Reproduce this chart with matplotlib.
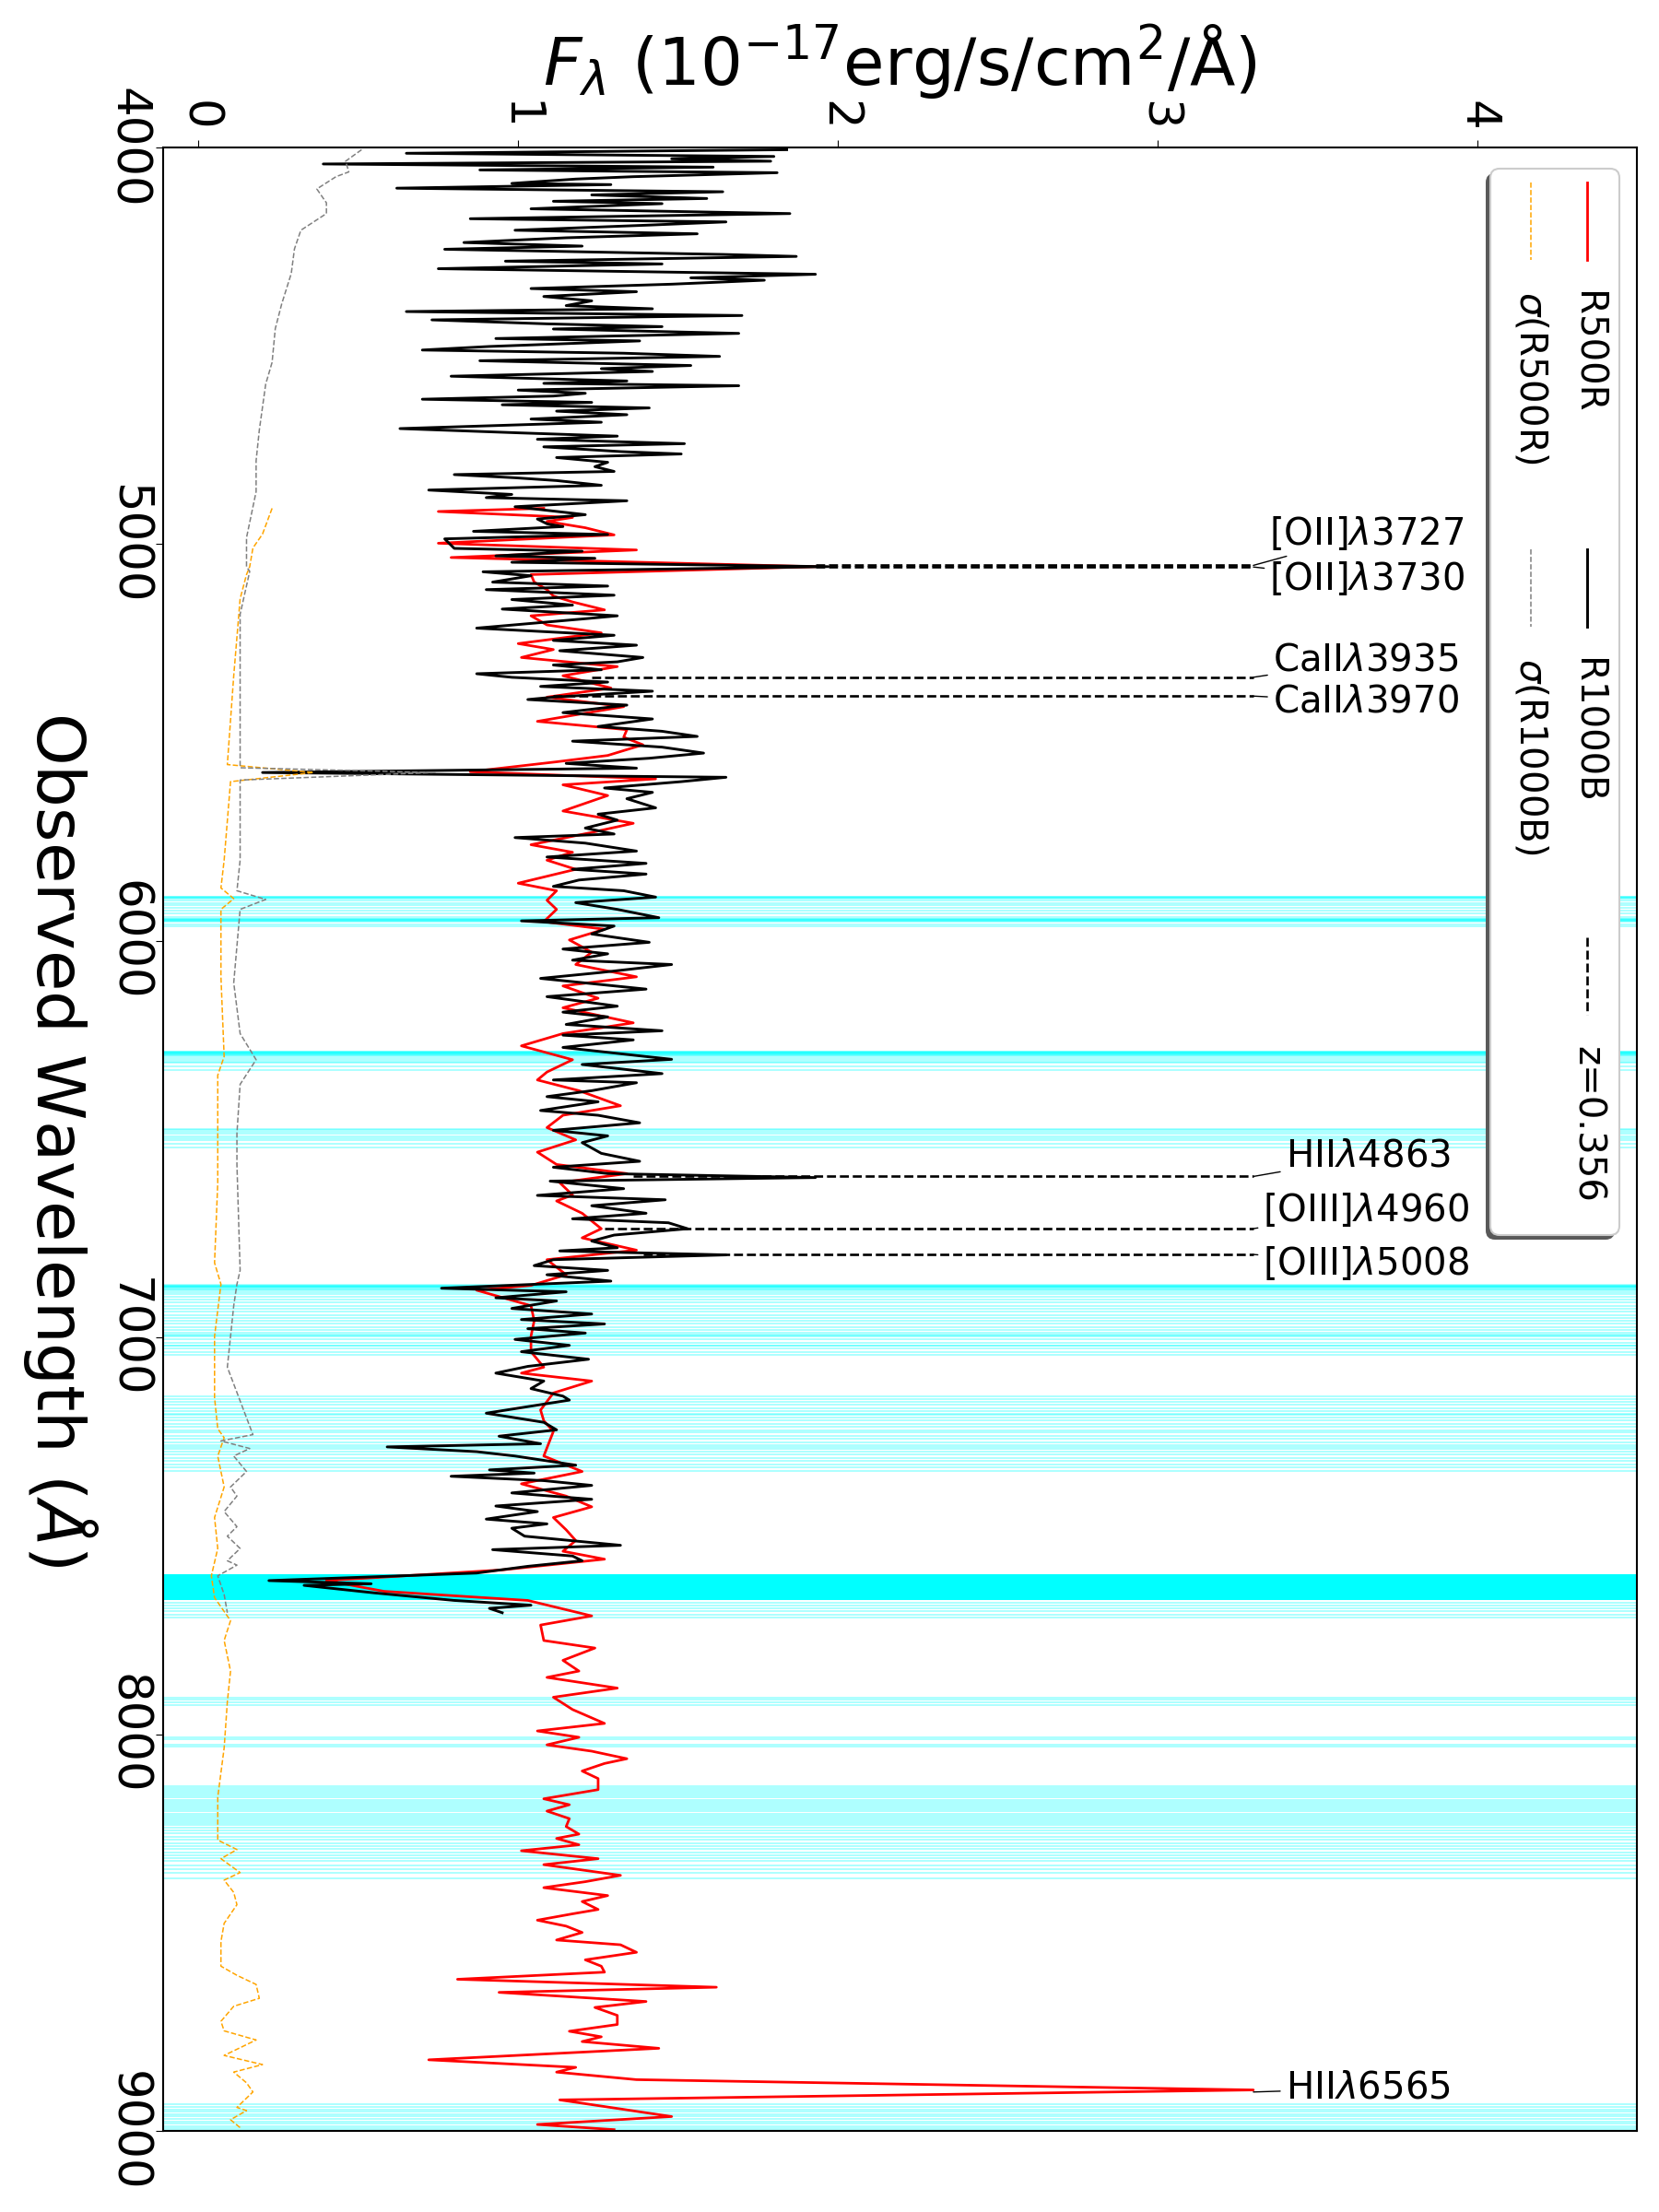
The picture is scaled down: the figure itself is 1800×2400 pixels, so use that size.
import numpy as np
import matplotlib
matplotlib.use('Agg')
import matplotlib.pyplot as plt
from matplotlib.patches import FancyBboxPatch
from matplotlib.lines import Line2D
from matplotlib.transforms import Affine2D

z = 0.356

# R1000B spectrum (observed wavelength in A, flux in 1e-17 erg/s/cm2/A)
r1000Wave = [4006, 4015, 4023, 4029, 4035, 4042, 4050, 4057, 4064, 4074, 4080, 4091, 4094, 4103,
             4112, 4120, 4129, 4136, 4142, 4155, 4167, 4180, 4188, 4196, 4209, 4218, 4228, 4240,
             4249, 4257, 4270, 4275, 4287, 4294, 4306, 4314, 4320, 4329, 4335, 4345, 4356, 4364,
             4376, 4387, 4399, 4407, 4414, 4424, 4435, 4445, 4452, 4458, 4469, 4482, 4488, 4502,
             4511, 4519, 4527, 4538, 4550, 4558, 4565, 4577, 4589, 4595, 4601, 4612, 4620, 4627,
             4635, 4643, 4649, 4657, 4665, 4674, 4685, 4693, 4709, 4720, 4728, 4736, 4747, 4755,
             4767, 4773, 4782, 4794, 4805, 4817, 4825, 4833, 4840, 4852, 4864, 4875, 4883, 4891,
             4906, 4926, 4937, 4949, 4956, 4968, 4976, 4987, 5011, 5018, 5030, 5036, 5046, 5057,
             5070, 5080, 5096, 5106, 5115, 5129, 5140, 5154, 5164, 5181, 5189, 5212, 5230, 5243,
             5255, 5269, 5286, 5297, 5305, 5317, 5327, 5336, 5348, 5359, 5371, 5386, 5392, 5406,
             5425, 5441, 5460, 5472, 5485, 5497, 5512, 5527, 5540, 5553, 5565, 5576, 5588, 5599,
             5615, 5626, 5642, 5665, 5681, 5696, 5716, 5731, 5740, 5754, 5774, 5789, 5805, 5820,
             5832, 5847, 5863, 5874, 5890, 5904, 5921, 5942, 5950, 5963, 5983, 6004, 6021, 6033,
             6049, 6060, 6080, 6095, 6122, 6141, 6165, 6180, 6192, 6211, 6227, 6238, 6250, 6269,
             6299, 6312, 6335, 6351, 6358, 6378, 6393, 6406, 6428, 6440, 6459, 6478, 6492, 6509,
             6536, 6556, 6571, 6587, 6597, 6606, 6625, 6642, 6653, 6668, 6687, 6701, 6711, 6726,
             6742, 6757, 6774, 6782, 6792, 6804, 6819, 6831, 6842, 6858, 6876, 6885, 6900, 6908,
             6927, 6941, 6955, 6966, 6978, 6989, 7005, 7020, 7036, 7055, 7073, 7090, 7110, 7129,
             7148, 7158, 7191, 7214, 7233, 7249, 7268, 7276, 7288, 7299, 7322, 7334, 7342, 7350,
             7361, 7373, 7392, 7408, 7425, 7439, 7458, 7470, 7481, 7501, 7524, 7535, 7551, 7563,
             7577, 7594, 7613, 7621, 7625, 7644, 7663, 7675, 7683, 7694]
r1000Flux = [1.84, 0.65, 1.80, 1.48, 1.79, 0.39, 1.61, 0.88, 1.81, 1.36, 1.18, 0.98, 1.29, 0.62,
             1.64, 1.23, 1.59, 1.11, 1.45, 1.04, 1.85, 0.85, 1.65, 1.41, 0.99, 1.56, 1.15, 0.83,
             1.20, 0.77, 1.64, 1.87, 0.96, 1.45, 0.75, 1.42, 1.93, 1.54, 1.77, 1.48, 1.04, 1.37,
             1.08, 1.23, 1.15, 1.42, 0.65, 1.70, 0.73, 1.09, 1.45, 1.11, 1.69, 0.93, 1.38, 0.91,
             0.70, 1.33, 1.63, 0.88, 1.54, 1.26, 1.42, 0.79, 1.34, 1.08, 1.69, 1.00, 1.21, 1.11,
             0.70, 1.23, 0.95, 1.41, 1.12, 1.34, 1.04, 1.26, 0.63, 1.01, 1.31, 1.06, 1.52, 1.08,
             1.32, 1.51, 1.12, 1.28, 1.24, 1.30, 0.80, 0.99, 1.12, 1.26, 0.72, 0.98, 0.90, 1.34,
             0.99, 1.21, 1.06, 1.09, 1.14, 0.86, 1.28, 0.77, 0.80, 1.20, 0.93, 1.24, 0.98, 1.97,
             0.89, 1.04, 0.92, 1.28, 0.90, 1.30, 0.98, 1.17, 0.95, 1.31, 1.20, 0.87, 1.30, 1.11,
             1.37, 1.13, 1.39, 1.31, 1.11, 1.26, 0.87, 0.98, 1.28, 1.07, 1.42, 1.11, 1.03, 1.34,
             1.14, 1.42, 1.25, 1.45, 1.56, 1.17, 1.45, 1.58, 1.41, 1.15, 1.37, 0.20, 1.65, 1.51,
             1.27, 1.42, 1.34, 1.43, 1.25, 1.31, 1.21, 1.30, 0.99, 1.21, 1.37, 1.09, 1.40, 1.17,
             1.40, 1.19, 1.11, 1.33, 1.43, 1.18, 1.31, 1.44, 1.01, 1.30, 1.23, 1.41, 1.14, 1.28,
             1.17, 1.48, 1.26, 1.07, 1.40, 1.09, 1.31, 1.14, 1.28, 1.15, 1.45, 1.14, 1.36, 1.14,
             1.48, 1.20, 1.45, 1.11, 1.37, 1.23, 1.09, 1.25, 1.07, 1.25, 1.38, 1.11, 1.28, 1.20,
             1.26, 1.38, 1.11, 1.28, 1.93, 1.10, 1.33, 1.06, 1.46, 1.23, 1.40, 1.17, 1.47, 1.53,
             1.30, 1.23, 1.31, 1.13, 1.65, 1.11, 1.05, 1.28, 1.09, 1.29, 0.76, 1.15, 0.93, 1.12,
             0.98, 1.23, 1.01, 1.27, 1.03, 1.21, 0.99, 1.16, 1.01, 1.22, 1.03, 0.93, 1.08, 1.04,
             1.14, 1.16, 0.90, 1.08, 1.12, 0.94, 1.07, 0.59, 0.87, 0.99, 1.18, 0.91, 1.05, 0.79,
             1.08, 1.23, 0.98, 1.23, 0.93, 1.06, 0.90, 1.09, 0.98, 1.02, 1.32, 0.92, 1.17, 1.20,
             1.03, 0.87, 0.22, 0.54, 0.33, 0.55, 0.80, 1.04, 0.91, 0.95]

# R500R spectrum
r500Wave = [4910, 4918, 4933, 4943, 4959, 4977, 4998, 5015, 5034, 5057, 5077, 5096, 5115, 5131,
            5146, 5166, 5181, 5204, 5224, 5251, 5266, 5286, 5309, 5332, 5363, 5386, 5410, 5447,
            5468, 5487, 5506, 5533, 5549, 5574, 5592, 5607, 5634, 5673, 5704, 5727, 5758, 5777,
            5797, 5820, 5855, 5874, 5898, 5921, 5952, 5971, 5998, 6029, 6060, 6091, 6114, 6145,
            6169, 6207, 6234, 6265, 6300, 6331, 6351, 6378, 6416, 6440, 6471, 6502, 6533, 6564,
            6587, 6610, 6641, 6656, 6687, 6726, 6749, 6780, 6804, 6842, 6869, 6881, 6920, 6958,
            6997, 7036, 7075, 7090, 7110, 7140, 7183, 7210, 7237, 7299, 7338, 7369, 7400, 7427,
            7454, 7485, 7512, 7539, 7559, 7586, 7613, 7640, 7663, 7702, 7725, 7764, 7783, 7814,
            7841, 7857, 7884, 7907, 7938, 7973, 7992, 8008, 8027, 8043, 8062, 8074, 8093, 8112,
            8140, 8163, 8178, 8194, 8213, 8233, 8252, 8263, 8279, 8294, 8314, 8329, 8356, 8372,
            8387, 8407, 8422, 8442, 8453, 8469, 8484, 8500, 8519, 8531, 8550, 8569, 8585, 8600,
            8618, 8638, 8651, 8674, 8689, 8709, 8732, 8749, 8763, 8775, 8792, 8821, 8840, 8852,
            8871, 8897, 8922, 8964, 8984, 8997]
r500Flux = [1.08, 0.75, 1.17, 1.09, 1.21, 1.30, 0.75, 1.37, 0.79, 1.93, 1.04, 1.05, 1.09, 1.11,
            1.17, 1.27, 1.04, 1.09, 1.26, 1.00, 1.11, 1.01, 1.31, 1.14, 1.29, 1.09, 1.33, 1.06,
            1.34, 1.33, 1.39, 1.28, 1.12, 0.85, 1.43, 1.14, 1.28, 1.14, 1.36, 1.23, 1.04, 1.17,
            1.09, 1.18, 1.00, 1.12, 1.09, 1.12, 1.08, 1.27, 1.16, 1.23, 1.18, 1.37, 1.14, 1.25,
            1.14, 1.36, 1.14, 1.01, 1.17, 1.09, 1.06, 1.19, 1.32, 1.14, 1.09, 1.18, 1.06, 1.12,
            1.34, 1.13, 1.17, 1.12, 1.20, 1.26, 1.20, 1.37, 1.09, 1.15, 1.04, 0.87, 1.04, 1.05,
            1.04, 1.04, 1.08, 1.01, 1.23, 1.11, 1.07, 1.08, 1.11, 1.08, 1.20, 1.01, 1.15, 1.23,
            1.11, 1.15, 1.18, 1.14, 1.27, 0.95, 0.40, 0.58, 1.03, 1.23, 1.07, 1.08, 1.24, 1.14,
            1.19, 1.09, 1.31, 1.11, 1.17, 1.27, 1.06, 1.19, 1.09, 1.23, 1.34, 1.27, 1.20, 1.25,
            1.25, 1.08, 1.16, 1.09, 1.16, 1.15, 1.19, 1.12, 1.19, 1.01, 1.25, 1.08, 1.32, 1.21,
            1.08, 1.28, 1.20, 1.25, 1.17, 1.06, 1.15, 1.20, 1.12, 1.32, 1.37, 1.21, 1.26, 1.27,
            0.81, 1.62, 0.94, 1.40, 1.24, 1.31, 1.31, 1.16, 1.26, 1.20, 1.44, 0.72, 1.18, 1.12,
            1.37, 3.30, 1.13, 1.48, 1.06, 1.30]

# errors
sig1000Wave = [4006, 4035, 4062, 4074, 4105, 4140, 4167, 4209, 4256, 4318, 4395, 4457, 4542, 4597,
               4713, 4790, 4868, 4984, 5057, 5069, 5177, 5564, 5576, 5595, 5797, 5874, 5896, 5921,
               6106, 6234, 6300, 6362, 6486, 6564, 6831, 6866, 6920, 7075, 7245, 7261, 7280, 7299,
               7338, 7377, 7400, 7439, 7477, 7501, 7532, 7563, 7574, 7601, 7648, 7694]
sig1000 = [0.51, 0.46, 0.47, 0.43, 0.37, 0.40, 0.40, 0.32, 0.30, 0.29, 0.26, 0.24, 0.23, 0.21,
           0.19, 0.18, 0.18, 0.15, 0.15, 0.16, 0.13, 0.13, 0.74, 0.13, 0.13, 0.12, 0.21, 0.13,
           0.11, 0.13, 0.18, 0.13, 0.12, 0.12, 0.13, 0.12, 0.11, 0.09, 0.17, 0.07, 0.16, 0.11,
           0.15, 0.10, 0.12, 0.08, 0.12, 0.09, 0.13, 0.09, 0.12, 0.06, 0.08, 0.09]
sig500Wave = [4910, 4975, 5010, 5057, 5077, 5138, 5332, 5556, 5576, 5599, 5797, 5867, 5894, 5921,
              6091, 6292, 6339, 6610, 6812, 6866, 6997, 7152, 7230, 7253, 7299, 7377, 7454, 7532,
              7601, 7656, 7714, 7764, 7841, 7919, 8035, 8159, 8267, 8291, 8314, 8349, 8368, 8399,
              8430, 8477, 8523, 8585, 8608, 8631, 8666, 8686, 8724, 8748, 8771, 8810, 8833, 8852,
              8879, 8902, 8941, 8949, 8972, 8992]
sig500 = [0.23, 0.20, 0.17, 0.16, 0.15, 0.13, 0.11, 0.09, 0.36, 0.10, 0.08, 0.07, 0.11, 0.07,
          0.07, 0.08, 0.06, 0.06, 0.05, 0.07, 0.05, 0.05, 0.06, 0.08, 0.06, 0.08, 0.05, 0.06,
          0.04, 0.05, 0.10, 0.08, 0.10, 0.09, 0.08, 0.06, 0.06, 0.12, 0.07, 0.13, 0.08, 0.11,
          0.12, 0.08, 0.07, 0.07, 0.12, 0.18, 0.19, 0.11, 0.07, 0.08, 0.18, 0.08, 0.20, 0.11,
          0.15, 0.17, 0.12, 0.15, 0.10, 0.13]

# sky lines / masked regions
skyLines = [5889, 5890, 5891, 5892, 5894, 5898, 5905, 5911, 5917, 5925, 5932, 5940, 5944, 5946,
            5947, 5948, 5949, 5950, 5952, 5960, 5963,
            6279, 6280, 6281, 6282, 6283, 6284, 6285, 6286, 6287, 6289, 6292, 6296, 6300, 6304,
            6308, 6316, 6327,
            6474, 6478, 6482, 6486, 6494, 6498, 6502, 6513, 6521,
            6868, 6869, 6870, 6871, 6872, 6873, 6875, 6877, 6879, 6881, 6885, 6890, 6897, 6905,
            6912, 6920, 6927, 6935, 6943, 6951, 6958, 6966, 6974, 6982, 6989, 6992, 6995, 6997,
            7005, 7013, 7020, 7021, 7028, 7036, 7044,
            7148, 7155, 7162, 7170, 7178, 7186, 7192, 7196, 7202, 7210, 7218, 7226, 7234, 7240,
            7248, 7256, 7264, 7272, 7276, 7280, 7288, 7296, 7304, 7312, 7320, 7328, 7336,
            7668, 7675, 7682, 7690, 7698, 7706,
            7908, 7914, 7920, 7927, 8008, 8012, 8026, 8031,
            8132, 8136, 8140, 8145, 8150, 8155, 8160, 8165, 8170, 8175, 8180, 8185, 8190, 8195,
            8200, 8205, 8210, 8215, 8220, 8225, 8230, 8236, 8242, 8250, 8258, 8266, 8275, 8282,
            8290, 8298, 8305, 8312, 8320, 8330, 8340, 8350, 8364,
            8933, 8940, 8946, 8952, 8958, 8964, 8970, 8976, 8982, 8988, 8994, 8998]
skyBands = [(7597, 7663)]

# emission / absorption line labels
lineNames = [r'[OII]$\lambda$3727', r'[OII]$\lambda$3730', r'CaII$\lambda$3935', r'CaII$\lambda$3970',
             r'HII$\lambda$4863', r'[OIII]$\lambda$4960', r'[OIII]$\lambda$5008', r'HII$\lambda$6565']
lineRest = [3727, 3730, 3935, 3970, 4863, 4960, 5008, 6565]
lineStart = [1.93, 1.93, 1.23, 1.11, 1.36, 1.27, 1.39, 3.30]
textWave = [4975, 5090, 5293, 5398, 6544, 6680, 6815, 8893]
textFlux = [3.35, 3.35, 3.36, 3.36, 3.40, 3.33, 3.33, 3.40]
lineTop = 3.30

fig = plt.figure(figsize=(18, 24), dpi=100)
ax = fig.add_axes([0.0985, 0.0367, 0.8882, 0.8967])

for w in skyLines:
    ax.axhline(w, color='cyan', alpha=0.35, lw=1.3, zorder=0)
for a, b in skyBands:
    ax.axhspan(a, b, color='cyan', lw=0, zorder=0)

ax.plot(r500Flux, r500Wave, color='red', lw=2.0)
ax.plot(r1000Flux, r1000Wave, color='black', lw=2.1)
ax.plot(sig500, sig500Wave, '--', color='orange', lw=1.1)
ax.plot(sig1000, sig1000Wave, '--', color='gray', lw=1.1)

for name, rest, fStart, tW, tF in zip(lineNames, lineRest, lineStart, textWave, textFlux):
    obs = rest * (1 + z)
    ax.plot([fStart, lineTop], [obs, obs], 'k--', lw=1.9)
    ax.annotate(name, xy=(lineTop, obs), xytext=(tF, tW), ha='left', va='center',
                fontsize=29, arrowprops=dict(arrowstyle='-', lw=1, color='k',
                                             shrinkA=2, shrinkB=0))

ax.set_xlim(-0.11, 4.5)
ax.set_ylim(9000, 4000)
ax.xaxis.set_ticks_position('top')
ax.xaxis.set_label_position('top')
ax.set_xticks([0, 1, 2, 3, 4])
ax.set_yticks([4000, 5000, 6000, 7000, 8000, 9000])
ax.tick_params(axis='x', labelrotation=-90, labelsize=37, pad=7, length=6)
ax.tick_params(axis='y', labelrotation=-90, labelsize=37, pad=4, length=6)
for lbl in ax.get_yticklabels():
    lbl.set_va('center')
for s in ax.spines.values():
    s.set_linewidth(1.5)

ax.set_xlabel(r'$F_\lambda$ ($10^{-17}$erg/s/cm$^2$/Å)', fontsize=52, labelpad=12)
ax.set_ylabel(r'Observed Wavelength ($\AA$)', fontsize=52, rotation=-90, va='center')
ax.yaxis.set_label_coords(-0.07, 0.5)

# legend, drawn by hand because it is rotated (pixel coords, y from top)
pixT = Affine2D().scale(1 / 1800, -1 / 2400).translate(0, 1) + fig.transFigure
shadow = FancyBboxPatch((1612, 188), 140, 1157, boxstyle='round,pad=0,rounding_size=10',
                        transform=pixT, facecolor='0.35', edgecolor='none', zorder=5)
box = FancyBboxPatch((1617, 183), 140, 1157, boxstyle='round,pad=0,rounding_size=10',
                     transform=pixT, facecolor='white', edgecolor='0.8', lw=1.5, zorder=6)
fig.add_artist(shadow)
fig.add_artist(box)

legLabels = ['R500R', r'$\sigma$(R500R)', 'R1000B', r'$\sigma$(R1000B)', 'z=0.356']
legColors = ['red', 'orange', 'black', 'gray', 'black']
legStyles = ['-', '--', '-', '--', '--']
legWidths = [2.0, 1.1, 2.1, 1.1, 1.9]
legX = [1722, 1661, 1722, 1661, 1722]
legY = [198, 198, 596, 596, 1017]
for lab, c, ls, lw, lx, ly in zip(legLabels, legColors, legStyles, legWidths, legX, legY):
    fig.add_artist(Line2D([lx, lx], [ly, ly + 84], color=c, ls=ls, lw=lw,
                          transform=pixT, zorder=7))
    fig.text(lx, ly + 118, lab, transform=pixT, rotation=-90, ha='center', va='top',
             fontsize=29, zorder=7)

fig.savefig('out.png', dpi=100)
